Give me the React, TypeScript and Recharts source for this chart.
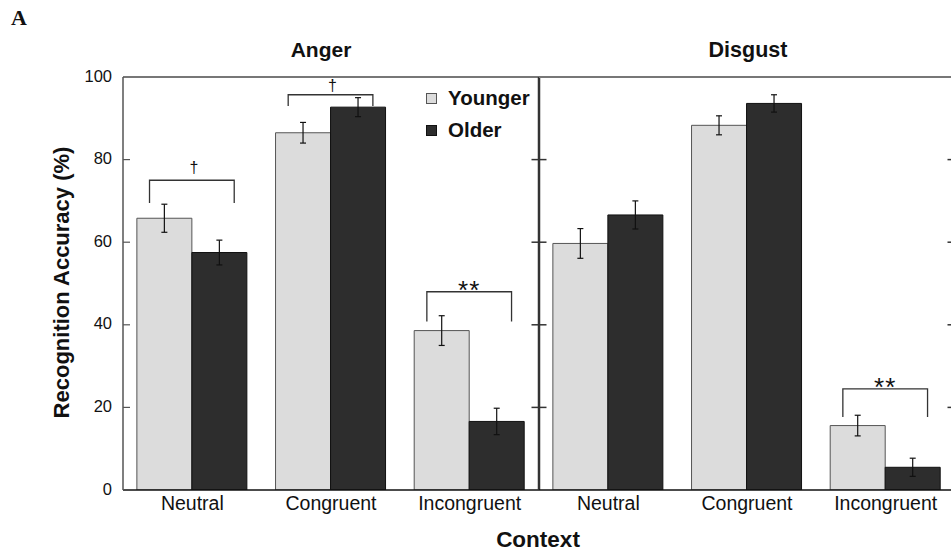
import { BarChart, Bar, XAxis, YAxis, ErrorBar, ReferenceLine, Legend, LabelList } from 'recharts';

const categories = ['Neutral', 'Congruent', 'Incongruent'];
const seriesNames = ['Younger', 'Older'];

const angerYounger = [65.8, 86.5, 38.6];
const angerOlder = [57.5, 92.7, 16.6];
const angerYoungerErr = [3.4, 2.5, 3.6];
const angerOlderErr = [3.0, 2.3, 3.2];

const disgustYounger = [59.7, 88.3, 15.6];
const disgustOlder = [66.6, 93.6, 5.5];
const disgustYoungerErr = [3.6, 2.3, 2.5];
const disgustOlderErr = [3.4, 2.1, 2.2];

const yTicks = [0, 20, 40, 60, 80, 100];

// significance brackets per category: bracket top, leg end, mark centre (all in %)
type Sig = { top: number; leg: number; markAt: number; mark: string } | null;
const angerSig: Sig[] = [
  { top: 75.0, leg: 69.5, markAt: 77.9, mark: '†' },
  { top: 95.7, leg: 93.0, markAt: 97.6, mark: '†' },
  { top: 48.0, leg: 40.8, markAt: 49.9, mark: '**' },
];
const disgustSig: Sig[] = [null, null, { top: 24.5, leg: 17.7, markAt: 26.3, mark: '**' }];

const FONT = '"Liberation Sans", Arial, sans-serif';
const YOUNG_FILL = '#dcdcdc';
const YOUNG_STROKE = '#555';
const OLD_FILL = '#2d2d2d';
const OLD_STROKE = '#111';

const buildData = (young: number[], old: number[], youngErr: number[], oldErr: number[]) =>
  categories.map((name, i) => ({
    name,
    young: young[i],
    old: old[i],
    youngErr: youngErr[i],
    oldErr: oldErr[i],
  }));

const angerData = buildData(angerYounger, angerOlder, angerYoungerErr, angerOlderErr);
const disgustData = buildData(disgustYounger, disgustOlder, disgustYoungerErr, disgustOlderErr);

const LabelTick = (props: any) => {
  const { x, y, payload } = props;
  const v = Number(payload.value);
  return (
    <g>
      {v > 0 && v < 100 && <line x1={x} x2={x + 7} y1={y} y2={y} stroke="#555" strokeWidth={1.2} />}
      <text x={x - 11} y={y} dy={4.5} textAnchor="end" fontSize={16.5} fill="#111" fontFamily={FONT}>
        {v}
      </text>
    </g>
  );
};

const CrossTick = (props: any) => {
  const { x, y, payload } = props;
  const v = Number(payload.value);
  if (v <= 0 || v >= 100) return <g />;
  return <line x1={x - 7.5} x2={x + 7.5} y1={y} y2={y} stroke="#333" strokeWidth={1.5} />;
};

const makeBracket = (sig: Sig[], young: number[]) => (props: any) => {
  const index = props.index;
  const s = sig[index];
  if (!s) return null;
  const vb = props.viewBox ?? props;
  const { x, y, width, height } = vb;
  const base = y + height;
  const k = height / young[index];
  const py = (v: number) => base - v * k;
  const x1 = x + width * 0.23;
  const x2 = x + width * 2 - width * 0.23;
  const isStar = s.mark === '**';
  const fs = isStar ? 26 : 16;
  const shift = isStar ? 0.57 * fs : 0.27 * fs;
  return (
    <g>
      <path
        d={`M${x1},${py(s.leg)} L${x1},${py(s.top)} L${x2},${py(s.top)} L${x2},${py(s.leg)}`}
        fill="none"
        stroke="#333"
        strokeWidth={1.3}
      />
      <text
        x={(x1 + x2) / 2 + (isStar ? 0 : 2)}
        y={py(s.markAt) + shift}
        textAnchor="middle"
        fontSize={fs}
        letterSpacing={isStar ? 1 : 0}
        fill="#111"
        fontFamily={FONT}
      >
        {s.mark}
      </text>
    </g>
  );
};

const renderLegend = (props: any) => {
  const items = [...(props.payload || [])].sort(
    (a: any, b: any) => seriesNames.indexOf(a.value) - seriesNames.indexOf(b.value),
  );
  return (
    <div style={{ fontFamily: FONT }}>
      {items.map((p: any, i: number) => (
        <div key={p.value} style={{ display: 'flex', alignItems: 'center', height: 32 }}>
          <span
            style={{
              display: 'inline-block',
              width: 9,
              height: 9,
              background: p.color,
              border: `1px solid ${i === 0 ? YOUNG_STROKE : OLD_STROKE}`,
              marginRight: 11,
            }}
          />
          <span style={{ fontSize: 20.5, fontWeight: 'bold', color: '#111' }}>{p.value}</span>
        </div>
      ))}
    </div>
  );
};

const Panel = ({
  data,
  sig,
  young,
  isLeft,
}: {
  data: any[];
  sig: Sig[];
  young: number[];
  isLeft: boolean;
}) => {
  const width = isLeft ? 560 : 460;
  const margin = isLeft
    ? { top: 77, right: 11, bottom: 38, left: 0 }
    : { top: 77, right: 15, bottom: 38, left: 9 };
  return (
    <BarChart width={width} height={558} data={data} margin={margin} barCategoryGap="10%" barGap={0}>
      <XAxis
        dataKey="name"
        interval={0}
        height={30}
        tickLine={false}
        tickSize={0}
        tickMargin={6}
        axisLine={{ stroke: '#111', strokeWidth: 1.5 }}
        tick={{ fontSize: 19.5, fill: '#111', fontFamily: FONT }}
      />
      <YAxis
        yAxisId="l"
        orientation="left"
        width={isLeft ? 123 : 10}
        domain={[0, 100]}
        ticks={yTicks}
        type="number"
        allowDataOverflow
        tickLine={false}
        tickSize={0}
        tickMargin={0}
        axisLine={isLeft ? { stroke: '#555', strokeWidth: 1.5 } : false}
        tick={isLeft ? LabelTick : false}
      />
      <YAxis
        yAxisId="r"
        orientation="right"
        width={10}
        domain={[0, 100]}
        ticks={yTicks}
        type="number"
        allowDataOverflow
        tickLine={false}
        tickSize={0}
        tickMargin={0}
        axisLine={{ stroke: '#333', strokeWidth: 2.5 }}
        tick={CrossTick}
      />
      <ReferenceLine yAxisId="l" y={100} stroke="#777" strokeWidth={2} />
      {isLeft && (
        <Legend
          layout="vertical"
          align="center"
          verticalAlign="middle"
          wrapperStyle={{ left: 426, top: 82, width: 'auto', height: 'auto' }}
          content={renderLegend}
        />
      )}
      <Bar
        yAxisId="l"
        dataKey="young"
        name={seriesNames[0]}
        fill={YOUNG_FILL}
        stroke={YOUNG_STROKE}
        strokeWidth={1}
        isAnimationActive={false}
      >
        <ErrorBar dataKey="youngErr" width={3} stroke="#111" strokeWidth={1.2} direction="y" />
        <LabelList dataKey="young" content={makeBracket(sig, young)} />
      </Bar>
      <Bar
        yAxisId="l"
        dataKey="old"
        name={seriesNames[1]}
        fill={OLD_FILL}
        stroke={OLD_STROKE}
        strokeWidth={1}
        isAnimationActive={false}
      >
        <ErrorBar dataKey="oldErr" width={3} stroke="#111" strokeWidth={1.2} direction="y" />
      </Bar>
    </BarChart>
  );
};

export default function App() {
  return (
    <div
      style={{
        position: 'absolute',
        left: 0,
        top: 0,
        width: 951,
        height: 558,
        overflow: 'hidden',
        background: '#fff',
        fontFamily: FONT,
      }}
    >
      <div style={{ position: 'absolute', left: 0, top: 0 }}>
        <Panel data={angerData} sig={angerSig} young={angerYounger} isLeft />
      </div>
      <div style={{ position: 'absolute', left: 520, top: 0 }}>
        <Panel data={disgustData} sig={disgustSig} young={disgustYounger} isLeft={false} />
      </div>
      <svg
        width={951}
        height={558}
        style={{ position: 'absolute', left: 0, top: 0, pointerEvents: 'none' }}
      >
        <text x={11} y={25} fontFamily='"Liberation Serif", "Times New Roman", serif' fontWeight="bold" fontSize={22} fill="#111">
          A
        </text>
        <text x={321} y={56.5} textAnchor="middle" fontWeight="bold" fontSize={21} fill="#111" fontFamily={FONT}>
          Anger
        </text>
        <text x={748} y={56.5} textAnchor="middle" fontWeight="bold" fontSize={21.5} fill="#111" fontFamily={FONT}>
          Disgust
        </text>
        <text
          x={68.5}
          y={282.5}
          textAnchor="middle"
          fontWeight="bold"
          fontSize={22}
          fill="#111"
          fontFamily={FONT}
          transform="rotate(-90, 68.5, 282.5)"
        >
          Recognition Accuracy (%)
        </text>
        <text x={538} y={546.5} textAnchor="middle" fontWeight="bold" fontSize={22.5} fill="#111" fontFamily={FONT}>
          Context
        </text>
      </svg>
    </div>
  );
}
